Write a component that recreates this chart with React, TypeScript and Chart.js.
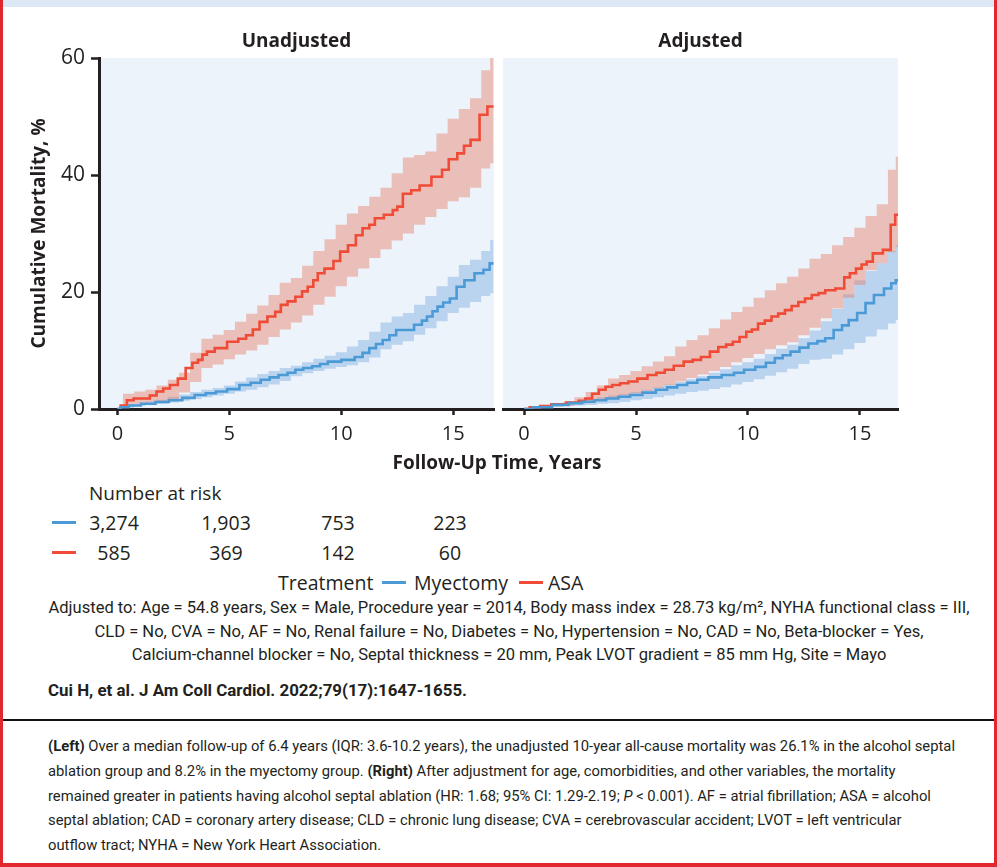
import React, { useEffect, useLayoutEffect, useRef } from "react";
import { Chart, registerables } from "chart.js";

Chart.register(...registerables);

// ---------- data ----------
const xTickValues = [0, 5, 10, 15];
const yTickValues = [0, 20, 40, 60];

// Unadjusted panel
const unadjAsaT = [0, 0.3, 0.55, 0.9, 1.3, 1.6, 1.9, 2.2, 2.5, 2.9, 3.2, 3.5, 3.7, 3.9, 4.1, 4.6, 5.2, 5.6, 5.9, 6.2, 6.5, 6.9, 7.2, 7.4, 7.8, 8.1, 8.4, 8.6, 8.9, 9.0, 9.5, 9.8, 10.1, 10.5, 10.8, 11.1, 11.4, 11.6, 12.2, 12.4, 12.6, 12.9, 13.35, 13.65, 14.4, 14.6, 15.0, 15.36, 15.6, 15.95, 16.4, 16.65, 16.8];
const unadjAsaV = [0, 0.6, 1.5, 1.8, 1.8, 2.3, 3.0, 3.5, 4.1, 5.2, 7.0, 7.9, 8.4, 9.3, 9.8, 10.4, 11.5, 12.0, 12.6, 13.6, 14.9, 15.8, 16.6, 17.8, 18.4, 19.2, 20.1, 20.9, 22.0, 23.2, 24.0, 25.3, 26.9, 28.0, 29.7, 30.9, 31.5, 32.6, 33.2, 34.0, 34.6, 36.8, 37.4, 38.2, 39.7, 40.9, 42.7, 43.7, 45.0, 46.0, 50.3, 51.7, 51.7];
const unadjMyoT = [0, 0.3, 0.7, 1.4, 2.0, 2.6, 3.2, 3.7, 4.2, 4.6, 5.2, 5.7, 6.2, 6.6, 7.0, 7.4, 7.8, 8.1, 8.5, 8.9, 9.2, 9.6, 10.4, 10.8, 11.1, 11.4, 11.7, 12.0, 12.3, 12.6, 13.0, 13.5, 13.7, 13.95, 14.2, 14.4, 14.7, 15.0, 15.3, 15.7, 16.2, 16.5, 16.75, 16.8];
const unadjMyoV = [0, 0.3, 0.6, 0.9, 1.2, 1.5, 1.9, 2.4, 2.7, 3.0, 3.4, 4.1, 4.5, 5.0, 5.4, 5.8, 6.2, 6.7, 7.0, 7.3, 7.7, 8.1, 8.4, 8.9, 9.6, 10.4, 11.1, 11.8, 12.6, 13.5, 13.5, 14.4, 15.1, 15.8, 16.7, 17.5, 18.2, 18.9, 20.9, 22.0, 23.2, 23.8, 24.9, 24.9];
const unadjBandT = [0, 0.5, 1, 1.5, 2, 2.5, 3, 3.5, 4, 4.5, 5, 5.5, 6, 6.5, 7, 7.5, 8, 8.5, 9, 9.5, 10, 10.5, 11, 11.5, 12, 12.5, 13, 13.5, 14, 14.5, 15, 15.5, 16, 16.5, 16.8];
const unadjAsaHi = [0, 2.6, 3.0, 3.3, 4.0, 5.0, 6.2, 9.6, 12.0, 12.7, 13.5, 14.9, 16.3, 17.7, 19.5, 21.6, 22.4, 24.5, 27.0, 29.0, 31.5, 33.4, 34.7, 36.3, 37.8, 40.3, 43.0, 43.4, 44.0, 47.1, 49.6, 51.3, 53.1, 57.9, 60];
const unadjAsaLo = [0, 0.6, 0.9, 1.1, 1.2, 1.6, 2.8, 4.6, 7.0, 7.6, 8.5, 9.3, 10.0, 11.0, 12.3, 13.6, 14.8, 16.0, 17.8, 19.2, 21.0, 22.6, 24.0, 25.8, 27.3, 28.8, 30.0, 31.5, 32.8, 34.2, 35.5, 36.2, 37.8, 41.1, 42.0];
const unadjMyoHi = [0, 0.6, 0.9, 1.3, 1.6, 2.1, 2.5, 2.9, 3.3, 3.6, 4.0, 4.7, 5.4, 6.0, 6.5, 7.0, 7.4, 8.0, 8.6, 9.1, 9.7, 10.7, 11.8, 13.2, 14.8, 15.8, 16.4, 17.8, 19.3, 21.0, 22.6, 24.6, 25.5, 27.0, 28.9];
const unadjMyoLo = [0, 0.2, 0.5, 0.7, 0.9, 1.1, 1.4, 1.7, 2.0, 2.3, 2.6, 3.0, 3.3, 3.7, 4.2, 4.8, 5.6, 6.1, 6.5, 6.9, 7.2, 7.5, 8.0, 8.8, 10.2, 11.0, 11.6, 12.7, 13.8, 15.0, 16.4, 17.3, 18.3, 19.3, 19.8];

// Adjusted panel
const adjAsaT = [0, 0.5, 0.94, 1.5, 2.28, 2.6, 2.88, 3.2, 3.48, 3.8, 4.08, 4.5, 4.82, 5.3, 5.72, 6.1, 6.47, 6.9, 7.36, 7.7, 8.1, 8.5, 8.85, 9.2, 9.45, 9.8, 10.05, 10.3, 10.6, 10.9, 11.2, 11.5, 11.8, 12.1, 12.4, 12.7, 13.0, 13.3, 13.6, 14.2, 14.4, 14.7, 14.95, 15.2, 15.4, 15.75, 16.3, 16.45, 16.7];
const adjAsaV = [0, 0.3, 0.5, 0.8, 1.1, 1.4, 1.8, 2.6, 3.3, 3.8, 4.1, 4.4, 4.7, 5.2, 5.8, 6.2, 6.7, 7.4, 8.1, 8.4, 8.9, 9.8, 10.6, 11.0, 11.5, 12.3, 13.2, 13.6, 14.6, 15.1, 15.8, 16.3, 16.9, 17.6, 18.3, 18.9, 19.5, 19.8, 20.3, 20.6, 22.5, 23.2, 24.0, 24.7, 25.2, 26.6, 27.2, 31.5, 33.2];
const adjMyoT = [0, 0.8, 1.7, 2.3, 2.88, 3.4, 3.93, 4.5, 4.97, 5.6, 6.17, 6.6, 7.07, 7.5, 7.97, 8.5, 9.15, 9.6, 10.05, 10.6, 11.0, 11.4, 11.7, 12.1, 12.5, 12.9, 13.3, 13.6, 14.05, 14.35, 14.65, 15.1, 15.4, 15.85, 16.3, 16.5, 16.7];
const adjMyoV = [0, 0.3, 0.7, 1.0, 1.25, 1.5, 1.8, 2.1, 2.4, 2.8, 3.3, 3.7, 4.1, 4.5, 5.0, 5.4, 5.8, 6.2, 6.7, 7.2, 7.9, 8.7, 9.2, 9.8, 10.5, 11.2, 11.6, 12.1, 13.5, 14.3, 15.2, 16.4, 18.1, 19.5, 20.6, 21.5, 22.0];
const adjBandT = [0, 0.5, 1, 1.5, 2, 2.5, 3, 3.5, 4, 4.5, 5, 5.5, 6, 6.5, 7, 7.5, 8, 8.5, 9, 9.5, 10, 10.5, 11, 11.5, 12, 12.5, 13, 13.5, 14, 14.5, 15, 15.5, 16, 16.5, 16.7];
const adjAsaHi = [0, 0.3, 0.6, 0.9, 1.3, 2.0, 2.9, 4.0, 5.2, 5.8, 6.5, 7.3, 8.1, 9.0, 10.7, 11.8, 12.6, 13.8, 15.3, 16.6, 17.5, 19.0, 20.3, 21.5, 22.6, 24.0, 25.7, 26.5, 28.0, 29.4, 31.0, 33.0, 35.0, 40.9, 43.1];
const adjAsaLo = [0, 0.1, 0.3, 0.45, 0.6, 0.9, 1.2, 1.5, 1.9, 2.3, 2.7, 3.1, 3.6, 4.1, 4.7, 5.3, 5.9, 6.5, 7.2, 8.0, 8.7, 9.4, 10.2, 10.9, 11.4, 12.6, 13.9, 15.5, 17.2, 19.0, 21.2, 23.7, 24.9, 26.8, 27.7];
const adjMyoHi = [0, 0.2, 0.4, 0.7, 1.0, 1.3, 1.7, 2.0, 2.3, 2.6, 2.9, 3.3, 3.7, 4.2, 4.6, 5.1, 5.6, 6.2, 6.8, 7.5, 8.0, 8.6, 9.4, 10.3, 11.0, 12.1, 13.4, 15.0, 17.1, 19.6, 22.0, 23.6, 24.9, 27.0, 28.0];
const adjMyoLo = [0, 0.1, 0.2, 0.4, 0.5, 0.6, 0.7, 0.9, 1.0, 1.2, 1.5, 1.7, 2.0, 2.3, 2.6, 2.9, 3.1, 3.4, 3.7, 4.2, 4.6, 5.1, 5.7, 6.3, 6.9, 7.7, 8.4, 8.6, 9.3, 10.2, 11.3, 12.4, 13.6, 14.6, 15.2];

// Number at risk
const riskMyectomy = ["3,274", "1,903", "753", "223"];
const riskAsa = ["585", "369", "142", "60"];

const footnoteLines = [
  "Adjusted to: Age = 54.8 years, Sex = Male, Procedure year = 2014, Body mass index = 28.73 kg/m², NYHA functional class = III,",
  "CLD = No, CVA = No, AF = No, Renal failure = No, Diabetes = No, Hypertension = No, CAD = No, Beta-blocker = Yes,",
  "Calcium-channel blocker = No, Septal thickness = 20 mm, Peak LVOT gradient = 85 mm Hg, Site = Mayo",
];

// ---------- styles / layout ----------
const INK = "#231F20";
const RED = "#EF4B36";
const BLUE = "#4B9AD6";
const RED_BAND = "rgba(232, 118, 92, 0.42)";
const BLUE_BAND = "rgba(112, 166, 226, 0.40)";
const PANEL_BG = "#ECF3FB";
const SANS = "'Open Sans', 'Noto Sans', sans-serif";
const NARROW = "Roboto, 'Noto Sans', sans-serif";

// page x of the ticks 0, 5, 10, 15 (the risk table sits under them)
const riskCenters = [114, 226, 338, 450];

const pts = (t: number[], v: number[]) => t.map((x, i) => ({ x, y: v[i] }));

const bgPlugin = {
  id: "panelBg",
  beforeDraw(chart: any) {
    const { ctx, chartArea } = chart;
    ctx.save();
    ctx.fillStyle = PANEL_BG;
    ctx.fillRect(chartArea.left, chartArea.top, chartArea.right - chartArea.left, chartArea.bottom - chartArea.top);
    ctx.restore();
  },
};

function makeConfig(p: {
  title: string;
  showY: boolean;
  xMin: number;
  xMax: number;
  padding: { left: number; right: number };
  asaT: number[]; asaV: number[]; myoT: number[]; myoV: number[];
  bandT: number[]; asaLo: number[]; asaHi: number[]; myoLo: number[]; myoHi: number[];
}): any {
  const base = { pointRadius: 0, stepped: "middle", tension: 0 };
  return {
    type: "line",
    data: {
      datasets: [
        { ...base, label: "ASA lo", data: pts(p.bandT, p.asaLo), borderWidth: 0, borderColor: "transparent", fill: false, order: 1 },
        { ...base, label: "ASA hi", data: pts(p.bandT, p.asaHi), borderWidth: 0, borderColor: "transparent", backgroundColor: RED_BAND, fill: "-1", order: 1 },
        { ...base, label: "Myo lo", data: pts(p.bandT, p.myoLo), borderWidth: 0, borderColor: "transparent", fill: false, order: 2 },
        { ...base, label: "Myo hi", data: pts(p.bandT, p.myoHi), borderWidth: 0, borderColor: "transparent", backgroundColor: BLUE_BAND, fill: "-1", order: 2 },
        { ...base, label: "Myectomy", data: pts(p.myoT, p.myoV), borderColor: BLUE, borderWidth: 2.6, fill: false, order: 0 },
        { ...base, label: "ASA", data: pts(p.asaT, p.asaV), borderColor: RED, borderWidth: 2.6, fill: false, order: 0 },
      ],
    },
    options: {
      animation: false,
      responsive: false,
      maintainAspectRatio: false,
      events: [],
      layout: { padding: { left: p.padding.left, right: p.padding.right, top: 0, bottom: 0 } },
      plugins: {
        legend: { display: false },
        tooltip: { enabled: false },
        title: {
          display: true,
          text: p.title,
          fullSize: false,
          color: INK,
          font: { family: SANS, size: 19, weight: "bold", lineHeight: 1.2 },
          padding: { top: 10.6, bottom: 4.6 },
        },
      },
      scales: {
        x: {
          type: "linear",
          min: p.xMin,
          max: p.xMax,
          afterBuildTicks: (s: any) => { s.ticks = xTickValues.map((value) => ({ value })); },
          afterFit: (s: any) => { s.height = 51; },
          ticks: { color: INK, font: { family: SANS, size: 20 }, padding: 7, maxRotation: 0 },
          grid: { display: true, drawOnChartArea: false, drawTicks: true, tickLength: 6, tickWidth: 2.5, tickColor: INK, color: INK },
          border: { display: true, color: INK, width: 3 },
        },
        y: {
          type: "linear",
          display: p.showY,
          min: 0,
          max: 60,
          afterBuildTicks: (s: any) => { s.ticks = yTickValues.map((value) => ({ value })); },
          afterFit: (s: any) => { s.width = p.showY ? 96 : 0; },
          ticks: { color: INK, font: { family: SANS, size: 21 }, padding: 6 },
          grid: { display: true, drawOnChartArea: false, drawTicks: true, tickLength: 8, tickWidth: 2.5, tickColor: INK, color: INK },
          border: { display: true, color: INK, width: 3 },
          title: {
            display: true,
            text: "Cumulative Mortality, %",
            color: INK,
            font: { family: SANS, size: 19, weight: "bold", lineHeight: 1.2 },
            padding: { top: 25, bottom: 0 },
          },
        },
      },
    },
    plugins: [bgPlugin],
  };
}

function KMPanel({ config, left, top, width, height }: { config: () => any; left: number; top: number; width: number; height: number }) {
  const ref = useRef<HTMLCanvasElement>(null);
  useEffect(() => {
    const chart = new Chart(ref.current as HTMLCanvasElement, config());
    return () => chart.destroy();
  }, []);
  return (
    <canvas
      ref={ref}
      width={width}
      height={height}
      style={{ position: "absolute", left, top, width, height }}
    />
  );
}

// A block of text lines squeezed horizontally (one common factor) to mimic the condensed original typeface;
// the factor is chosen so that the first line gets the width it has in the original.
function CondensedBlock({
  left, top, width, align, fitWidth, lineHeight, fontSize, bold, lines,
}: {
  left: number; top: number; width?: number; align: "left" | "center"; fitWidth: number;
  lineHeight: number; fontSize: number; bold?: boolean; lines: React.ReactNode[];
}) {
  const blockRef = useRef<HTMLDivElement>(null);
  const firstRef = useRef<HTMLSpanElement>(null);
  useLayoutEffect(() => {
    const b = blockRef.current;
    const f = firstRef.current;
    if (!b || !f) return;
    b.style.transform = "none";
    const w = f.getBoundingClientRect().width;
    if (w > 0) b.style.transform = `scaleX(${fitWidth / w})`;
  });
  return (
    <div
      ref={blockRef}
      style={{
        position: "absolute", left, top, width, textAlign: align,
        transformOrigin: align === "center" ? "50% 0" : "0 0",
        fontFamily: NARROW, fontSize, fontWeight: bold ? 700 : 400,
        lineHeight: `${lineHeight}px`, whiteSpace: "nowrap", color: INK,
      }}
    >
      {lines.map((l, i) => (
        <div key={i}><span ref={i === 0 ? firstRef : undefined}>{l}</span></div>
      ))}
    </div>
  );
}

function Dash({ color, left, top }: { color: string; left: number; top: number }) {
  return <div style={{ position: "absolute", left, top, width: 24, height: 3, background: color }} />;
}

export default function App() {
  const text = (style: React.CSSProperties, children: React.ReactNode) => (
    <div style={{ position: "absolute", whiteSpace: "nowrap", color: INK, ...style }}>{children}</div>
  );
  const captionLines: React.ReactNode[] = [
    <><b>(Left)</b> Over a median follow-up of 6.4 years (IQR: 3.6-10.2 years), the unadjusted 10-year all-cause mortality was 26.1% in the alcohol septal</>,
    <>ablation group and 8.2% in the myectomy group. <b>(Right)</b> After adjustment for age, comorbidities, and other variables, the mortality</>,
    <>remained greater in patients having alcohol septal ablation (HR: 1.68; 95% CI: 1.29-2.19; <i>P</i> &lt; 0.001). AF = atrial fibrillation; ASA = alcohol</>,
    <>septal ablation; CAD = coronary artery disease; CLD = chronic lung disease; CVA = cerebrovascular accident; LVOT = left ventricular</>,
    <>outflow tract; NYHA = New York Heart Association.</>,
  ];

  // the frame has a 3px left border, so inner x = page x - 3
  return (
    <div
      style={{
        position: "absolute",
        left: 0,
        top: 0,
        width: 997,
        height: 867,
        background: "#fff",
        boxSizing: "border-box",
        borderLeft: "3px solid #E2282F",
        borderRight: "3px solid #E2282F",
        borderBottom: "4px solid #E2282F",
        overflow: "hidden",
        fontFamily: SANS,
      }}
    >
      <div style={{ position: "absolute", left: 0, right: 0, top: 0, height: 7, background: "#DCE8F6" }} />

      <KMPanel
        left={-3}
        top={20}
        width={503}
        height={440}
        config={() =>
          makeConfig({
            title: "Unadjusted",
            showY: true,
            xMin: -0.82,
            xMax: 16.82,
            padding: { left: 3, right: 9 },
            asaT: unadjAsaT, asaV: unadjAsaV, myoT: unadjMyoT, myoV: unadjMyoV,
            bandT: unadjBandT, asaLo: unadjAsaLo, asaHi: unadjAsaHi, myoLo: unadjMyoLo, myoHi: unadjMyoHi,
          })
        }
      />
      <KMPanel
        left={497}
        top={20}
        width={410}
        height={440}
        config={() =>
          makeConfig({
            title: "Adjusted",
            showY: false,
            xMin: -0.94,
            xMax: 16.7,
            padding: { left: 3, right: 12 },
            asaT: adjAsaT, asaV: adjAsaV, myoT: adjMyoT, myoV: adjMyoV,
            bandT: adjBandT, asaLo: adjAsaLo, asaHi: adjAsaHi, myoLo: adjMyoLo, myoHi: adjMyoHi,
          })
        }
      />

      {text({ left: 0, width: 988, top: 449, textAlign: "center", fontSize: 19, fontWeight: 700 }, "Follow-Up Time, Years")}

      {text({ left: 86, top: 480, fontSize: 19 }, "Number at risk")}
      <Dash color={BLUE} left={49} top={521} />
      <Dash color={RED} left={49} top={551} />
      {riskMyectomy.map((v, i) =>
        <div key={"m" + i} style={{ position: "absolute", left: riskCenters[i] - 3 - 40, width: 80, top: 509, textAlign: "center", fontSize: 19.5, color: INK }}>{v}</div>
      )}
      {riskAsa.map((v, i) =>
        <div key={"a" + i} style={{ position: "absolute", left: riskCenters[i] - 3 - 40, width: 80, top: 539, textAlign: "center", fontSize: 19.5, color: INK }}>{v}</div>
      )}

      {text({ left: 275, top: 569, fontSize: 19.5 }, "Treatment")}
      <Dash color={BLUE} left={379} top={581} />
      {text({ left: 411, top: 569, fontSize: 19.5 }, "Myectomy")}
      <Dash color={RED} left={516} top={581} />
      {text({ left: 545, top: 569, fontSize: 19.5 }, "ASA")}

      <CondensedBlock
        left={5.5}
        top={596}
        width={1000}
        align="center"
        fitWidth={921}
        lineHeight={23.5}
        fontSize={17}
        lines={footnoteLines}
      />

      <CondensedBlock
        left={45}
        top={678}
        align="left"
        fitWidth={419}
        lineHeight={24}
        fontSize={17}
        bold
        lines={["Cui H, et al. J Am Coll Cardiol. 2022;79(17):1647-1655."]}
      />

      <div style={{ position: "absolute", left: 0, right: 0, top: 719, height: 2, background: "#111" }} />

      <CondensedBlock
        left={45}
        top={734}
        align="left"
        fitWidth={907}
        lineHeight={24.75}
        fontSize={15.5}
        lines={captionLines}
      />
    </div>
  );
}
